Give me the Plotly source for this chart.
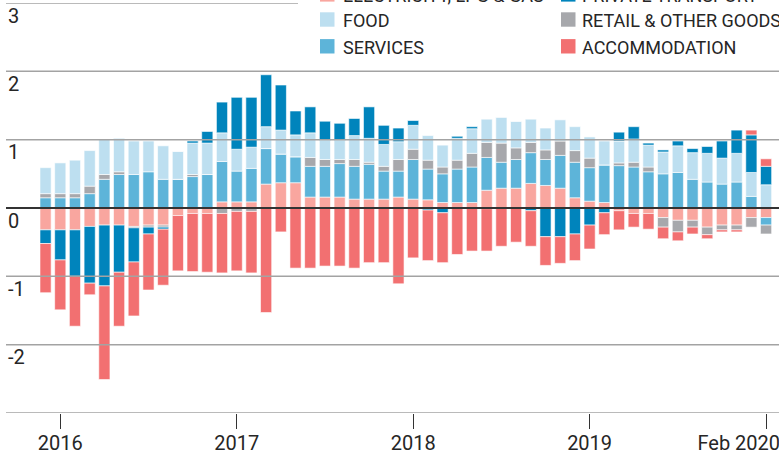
import plotly.graph_objects as go

# ---------------- data (percentage-point contributions) ----------------
months = [f"{y}-{m:02d}" for y in range(2016, 2021) for m in range(1, 13)][:50]  # Jan 2016 .. Feb 2020

electricity = [-0.32, -0.32, -0.32, -0.27, -0.25, -0.25, -0.27, -0.25, -0.25, -0.11,
               -0.08, -0.08, 0.09, 0.09, 0.09, 0.35, 0.37, 0.37, 0.16, 0.16,
               0.16, 0.13, 0.13, 0.13, 0.16, 0.13, 0.12, 0.08, 0.08, 0.08,
               0.26, 0.29, 0.29, 0.36, 0.33, 0.29, 0.15, 0.10, 0.08, -0.04,
               -0.08, -0.08, -0.14, -0.18, -0.18, -0.28, -0.25, -0.25, -0.14, -0.14]
services = [0.15, 0.15, 0.15, 0.21, 0.42, 0.49, 0.49, 0.53, 0.42, 0.42,
            0.46, 0.49, 0.59, 0.45, 0.49, 0.52, 0.42, 0.38, 0.45, 0.45,
            0.49, 0.48, 0.51, 0.41, 0.38, 0.58, 0.45, 0.42, 0.49, 0.52,
            0.48, 0.38, 0.42, 0.45, 0.38, 0.48, 0.52, 0.49, 0.55, 0.62,
            0.60, 0.53, 0.50, 0.52, 0.42, 0.38, 0.35, 0.38, 0.17, -0.11]
retail = [0.06, 0.06, 0.06, 0.11, 0.07, 0.04, -0.02, -0.03, -0.03, 0.0,
          0.03, 0.0, -0.08, -0.05, -0.05, 0.0, 0.0, 0.0, 0.13, 0.10,
          0.06, 0.10, 0.03, 0.07, 0.17, 0.15, 0.13, 0.10, 0.13, 0.20,
          0.22, 0.28, 0.17, 0.15, 0.14, 0.21, 0.17, 0.14, 0.0, 0.04,
          0.07, 0.07, -0.14, -0.17, -0.10, -0.11, -0.07, -0.07, -0.14, -0.13]
food = [0.38, 0.45, 0.49, 0.52, 0.52, 0.49, 0.49, 0.45, 0.49, 0.41,
        0.46, 0.46, 0.42, 0.32, 0.31, 0.32, 0.35, 0.32, 0.36, 0.28,
        0.28, 0.35, 0.35, 0.32, 0.26, 0.35, 0.36, 0.32, 0.32, 0.36,
        0.34, 0.38, 0.39, 0.34, 0.32, 0.31, 0.35, 0.31, 0.35, 0.32,
        0.34, 0.32, 0.32, 0.39, 0.39, 0.42, 0.38, 0.42, 0.35, 0.34]
transport = [-0.20, -0.44, -0.68, -0.83, -0.89, -0.69, -0.50, -0.10, -0.03, 0.0,
             0.03, 0.17, 0.45, 0.76, 0.73, 0.76, 0.66, 0.35, 0.38, 0.28,
             0.25, 0.25, 0.46, 0.28, 0.20, 0.07, -0.03, -0.07, 0.03, 0.03,
             -0.01, 0.0, 0.0, -0.04, -0.42, -0.42, -0.38, -0.25, -0.07, 0.13,
             0.18, 0.03, 0.03, 0.07, 0.06, 0.10, 0.25, 0.34, 0.55, 0.27]
accommodation = [-0.72, -0.73, -0.73, -0.17, -1.37, -0.79, -0.79, -0.82, -0.82, -0.81,
                 -0.85, -0.86, -0.87, -0.87, -0.90, -1.53, -0.35, -0.88, -0.88, -0.85,
                 -0.85, -0.88, -0.80, -0.80, -1.11, -0.73, -0.74, -0.73, -0.68, -0.63,
                 -0.62, -0.56, -0.50, -0.52, -0.42, -0.39, -0.39, -0.35, -0.32, -0.28,
                 -0.20, -0.23, -0.17, -0.13, -0.10, -0.06, -0.03, -0.03, 0.07, 0.11]

series_names = ["ELECTRICITY, LPG & GAS", "SERVICES", "RETAIL & OTHER GOODS",
                "FOOD", "PRIVATE TRANSPORT", "ACCOMMODATION"]
series_values = [electricity, services, retail, food, transport, accommodation]
series_colors = ["#f9a69f", "#5db4d9", "#a7a8ac", "#bddff0", "#0084bc", "#f27071"]

tick_months = ["2016-02", "2017-02", "2018-02", "2019-02", "2020-02"]
tick_labels = ["2016", "2017", "2018", "2019", "Feb 2020"]
y_ticks = [-2, -1, 0, 1, 2, 3]
y_tick_labels = ["-2", "-1", "0", "1", "2", "3"]
y_grid = [-3, -2, -1, 1, 2, 3]

# legend layout (two columns, three rows; first row partly above the page)
legend_rows = [["ELECTRICITY, LPG & GAS", "PRIVATE TRANSPORT"],
               ["FOOD", "RETAIL & OTHER GOODS"],
               ["SERVICES", "ACCOMMODATION"]]

# ---------------- figure ----------------
W, H = 779, 454
ML, MR, MT, MB = 6, 0, 3, 41
PW, PH = W - ML - MR, H - MT - MB


def px(x):
    return (x - ML) / PW


def py(y):
    return (H - MB - y) / PH


FONT = "Roboto"
TXT = "#262626"

fig = go.Figure()
for name, vals, col in zip(series_names, series_values, series_colors):
    fig.add_trace(go.Bar(
        x=months, y=vals, name=name, width=0.76,
        marker=dict(color=col, line=dict(color="rgba(255,255,255,0.6)", width=1)),
        showlegend=False, hoverinfo="skip",
    ))

shapes = []
for g in y_grid:
    shapes.append(dict(type="line", xref="paper", yref="y", x0=0, x1=1, y0=g, y1=g,
                       line=dict(color="#a3a3a3", width=1.5), layer="above"))
shapes.append(dict(type="line", xref="paper", yref="y", x0=0, x1=1, y0=0, y1=0,
                   line=dict(color="#333333", width=2.2), layer="above"))
# white legend backing
shapes.append(dict(type="rect", xref="paper", yref="paper",
                   x0=px(298), x1=px(W + 5), y0=py(60), y1=py(-10),
                   fillcolor="white", line=dict(width=0), layer="above"))

color_of = dict(zip(series_names, series_colors))
annotations = []
row_centers = [-5.6, 19.5, 46.3]
col_sw = [320, 561]
col_tx = [341, 580]
for r, row in enumerate(legend_rows):
    for c, name in enumerate(row):
        cy = row_centers[r]
        shapes.append(dict(type="rect", xref="paper", yref="paper",
                           x0=px(col_sw[c]), x1=px(col_sw[c] + 14.5),
                           y0=py(cy + 7.2), y1=py(cy - 7.2),
                           fillcolor=color_of[name], line=dict(width=0), layer="above"))
        annotations.append(dict(xref="paper", yref="paper", x=px(col_tx[c]), y=py(cy + 1.2),
                                xanchor="left", yanchor="middle", showarrow=False,
                                text=name, font=dict(family=FONT, size=18, color=TXT)))

# y-axis labels sit just below their gridlines, inside the plot
for v, t in zip(y_ticks, y_tick_labels):
    annotations.append(dict(xref="paper", yref="y", x=0, y=v, xanchor="left", yanchor="middle",
                            yshift=-12.5, showarrow=False, text=t,
                            font=dict(family=FONT, size=20, color=TXT)))

# last tick label is pulled left (as in the original) by trailing no-break spaces
tick_text_drawn = tick_labels[:-1] + [tick_labels[-1] + "\u00a0" * 11]

fig.update_layout(
    width=W, height=H,
    margin=dict(l=ML, r=MR, t=MT, b=MB, pad=0, autoexpand=False),
    paper_bgcolor="white", plot_bgcolor="white",
    barmode="relative",
    font=dict(family=FONT, color=TXT),
    shapes=shapes, annotations=annotations,
    hovermode=False,
    xaxis=dict(type="category", categoryorder="array", categoryarray=months,
               range=[-2.69, 49.88], tickmode="array", tickvals=tick_months, ticktext=tick_text_drawn,
               ticks="outside", ticklen=15, tickwidth=1, tickcolor="#333333",
               showgrid=False, zeroline=False, showline=False, automargin=False,
               ticklabelstandoff=-3,
               tickfont=dict(family=FONT, size=20, color=TXT)),
    yaxis=dict(range=[-3, 3], showticklabels=False, ticks="",
               showgrid=False, zeroline=False, showline=False, automargin=False),
)

fig.write_html("out.html", config={"displayModeBar": False, "staticPlot": True},
               post_script="document.body.style.margin='0px';document.body.style.padding='0px';")
